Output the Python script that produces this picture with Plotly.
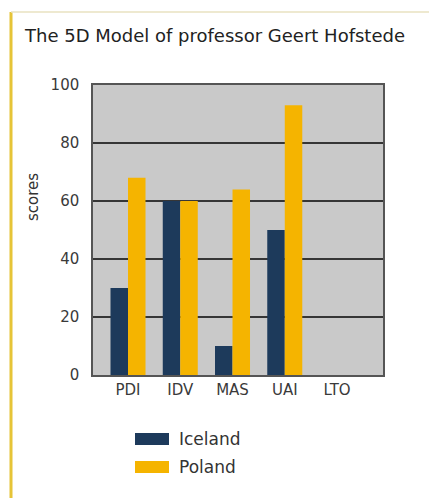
import plotly.graph_objects as go

# Hofstede dimension scores
dimensions = ["PDI", "IDV", "MAS", "UAI", "LTO"]
iceland = [30, 60, 10, 50, None]
poland = [68, 60, 64, 93, None]
series_names = ["Iceland", "Poland"]
y_ticks = [0, 20, 40, 60, 80, 100]

NAVY = "#1d3a5b"
GOLD = "#f5b400"
FONT = "DejaVu Sans"

fig = go.Figure()
fig.add_trace(go.Bar(x=dimensions, y=iceland, name=series_names[0],
                     marker=dict(color=NAVY, line=dict(width=0))))
fig.add_trace(go.Bar(x=dimensions, y=poland, name=series_names[1],
                     marker=dict(color=GOLD, line=dict(width=0))))

fig.update_layout(
    width=429, height=498,
    margin=dict(l=93, r=46, t=85, b=123),
    paper_bgcolor="white",
    plot_bgcolor="#c9c9c9",
    barmode="group", bargap=0.33, bargroupgap=0,
    showlegend=False,
    font=dict(family=FONT, color="#333333", size=14),
    xaxis=dict(type="category", range=[-0.67, 4.88], showgrid=False,
               showline=True, linecolor="#555555", linewidth=1.5, mirror=True,
               ticks="", tickfont=dict(size=15, color="#3a3a3a")),
    yaxis=dict(range=[0, 100], tickvals=y_ticks, showgrid=True,
               gridcolor="#363636", gridwidth=2,
               showline=True, linecolor="#555555", linewidth=1.5, mirror=True,
               ticks="", ticklabelstandoff=9,
               tickfont=dict(size=15, color="#3a3a3a"), zeroline=False),
)

# Chart title
fig.add_annotation(text="The 5D Model of professor Geert Hofstede",
                   xref="paper", yref="paper", x=(22 - 93) / 290, y=(498 - 123 - 35) / 290,
                   xanchor="left", yanchor="middle", showarrow=False,
                   font=dict(family=FONT, size=18, color="#222222"))

# Y axis title
fig.add_annotation(text="scores", xref="paper", yref="paper",
                   x=(33 - 93) / 290, y=(498 - 123 - 197) / 290, textangle=-90,
                   showarrow=False, xanchor="center", yanchor="middle",
                   font=dict(family=FONT, size=15, color="#333333"))

# Legend drawn below the plot
legend_colors = [NAVY, GOLD]
for i, (name, col) in enumerate(zip(series_names, legend_colors)):
    y0 = 433 + i * 28
    fig.add_shape(type="rect", xref="paper", yref="paper",
                  x0=(135 - 93) / 290, x1=(169 - 93) / 290,
                  y0=(498 - 123 - (y0 + 12)) / 290, y1=(498 - 123 - y0) / 290,
                  fillcolor=col, line=dict(width=0))
    fig.add_annotation(text=name, xref="paper", yref="paper",
                       x=(177 - 93) / 290, y=(498 - 123 - (y0 + 6)) / 290,
                       xanchor="left", yanchor="middle", showarrow=False,
                       font=dict(family=FONT, size=17, color="#333333"))

# Page frame: yellow rule on the left, faint rule on top
fig.add_shape(type="line", xref="paper", yref="paper",
              x0=(11 - 93) / 290, x1=(11 - 93) / 290,
              y0=(498 - 123 - 498) / 290, y1=(498 - 123 - 12) / 290,
              line=dict(color="#e6c437", width=3))
fig.add_shape(type="line", xref="paper", yref="paper",
              x0=(11 - 93) / 290, x1=(429 - 93) / 290,
              y0=(498 - 123 - 12) / 290, y1=(498 - 123 - 12) / 290,
              line=dict(color="#e9e2c0", width=1.5))

fig.write_html("out.html")
